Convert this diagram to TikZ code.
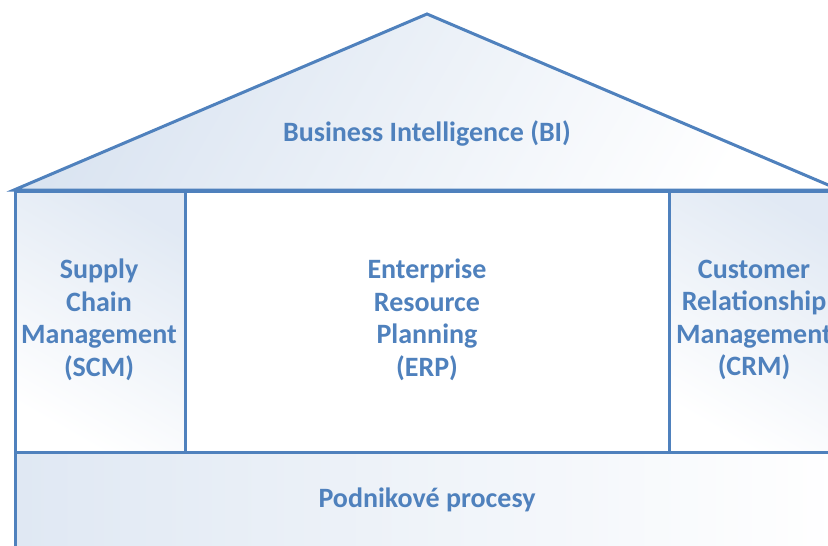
\documentclass[tikz,border=0pt]{standalone}
\usepackage{fontspec}
\setmainfont{Carlito}
\definecolor{edge}{RGB}{79,129,189}
\definecolor{txt}{RGB}{79,129,189}
\definecolor{lite}{RGB}{218,228,241}
\tikzset{
  lbl/.style={text=txt, font=\bfseries\fontsize{28}{32.5}\selectfont, align=center},
  box/.style={draw=edge, line width=3pt, anchor=north west, inner sep=0pt},
  wall/.style={draw=edge, line width=3pt, line join=miter},
}
\begin{document}
\begin{tikzpicture}[x=1pt,y=-1pt]
\useasboundingbox (0,0) rectangle (828,546);
\clip (0,0) rectangle (828,546);
\fill[white] (0,0) rectangle (828,546);
\coordinate (apex) at (427,14);
\coordinate (rl) at (14,190);
\coordinate (rr) at (840,190);
% roof
\shade[shading=axis, left color=lite, right color=white, shading angle=60] (rl) -- (apex) -- (rr) -- cycle;
\draw[wall] (rl) -- (apex) -- (rr) -- cycle;
\node[lbl] (bi) at (427,133) {Business Intelligence (BI)};
% columns
\node[box, minimum width=170, minimum height=261, shading=axis, top color=lite!80, bottom color=white, shading angle=-30] (scm) at (14,190) {};
\node[box, minimum width=484, minimum height=261, fill=white] (erp) at (184,190) {};
\node[box, minimum width=172, minimum height=261, shading=axis, top color=lite!80, bottom color=white, shading angle=-30] (crm) at (668,190) {};
\node[box, minimum width=826, minimum height=120, shading=axis, left color=lite!85, right color=white] (proc) at (14,451) {};
\node[lbl] (scmt) at (99,320) {Supply\\Chain\\Management\\(SCM)};
\node[lbl] (erpt) at (427,320) {Enterprise\\Resource\\Planning\\(ERP)};
\node[lbl] (crmt) at (754,320) {Customer\\Relationship\\Management\\(CRM)};
\node[lbl] (proct) at (427,500) {Podnikové procesy};
\end{tikzpicture}
\end{document}
